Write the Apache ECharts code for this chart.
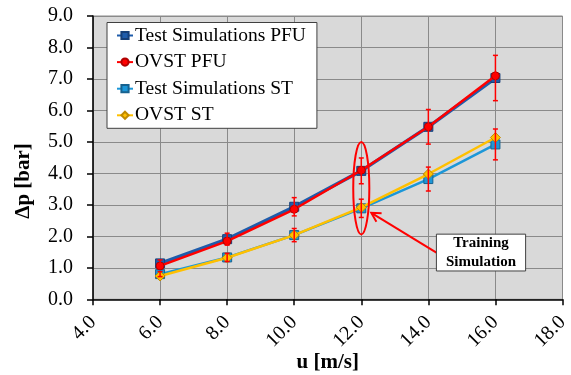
<!DOCTYPE html>
<html>
<head>
<meta charset="utf-8">
<script src="https://cdn.jsdelivr.net/npm/echarts@6/dist/echarts.min.js"></script>
<style>
  html, body { margin: 0; padding: 0; background: #fff; }
  #chart { width: 571px; height: 375px; }
</style>
</head>
<body>
<div id="chart"></div>
<script>
// Flow velocity (m/s)
const velocity = [6.0, 8.0, 10.0, 12.0, 14.0, 16.0];

// Pressure drop (bar)
const testPFU = [1.14, 1.91, 2.94, 4.08, 5.48, 7.03];
const ovstPFU = [1.06, 1.85, 2.86, 4.10, 5.48, 7.10];
const testST  = [0.80, 1.33, 2.04, 2.89, 3.82, 4.92];
const ovstST  = [0.74, 1.32, 2.04, 2.92, 3.98, 5.14];

// Error bar half-widths (bar) on the test simulation values
const errPFU = [0.11, 0.19, 0.29, 0.41, 0.55, 0.72];
const errST  = [0.08, 0.13, 0.21, 0.29, 0.38, 0.49];

const seriesNames = ['Test Simulations PFU', 'OVST PFU', 'Test Simulations ST', 'OVST ST'];
const xTicks = { min: 4, max: 18, step: 2 };
const yTicks = { min: 0, max: 9, step: 1 };

// Callout: ellipse around the training point and a labelled box
const noteEllipse = { x: 12, y: 3.53, rx: 0.24, ry: 1.47 };
const noteBox = { x0: 14.24, y0: 2.07, x1: 16.9, y1: 0.9 };
const noteText = 'Training\nSimulation';

const FONT = "'Liberation Serif', 'Times New Roman', serif";

const pairs = (ys) => velocity.map((x, i) => [x, ys[i]]);
const errData = (ys, es) => velocity.map((x, i) => [x, ys[i] - es[i], ys[i] + es[i]]);

function renderErr(params, api) {
  const top = api.coord([api.value(0), api.value(2)]);
  const bot = api.coord([api.value(0), api.value(1)]);
  const hw = 2.5;
  const style = { stroke: '#ff0000', lineWidth: 1.5 };
  return {
    type: 'group',
    children: [
      { type: 'line', shape: { x1: top[0], y1: top[1], x2: bot[0], y2: bot[1] }, style },
      { type: 'line', shape: { x1: top[0] - hw, y1: top[1], x2: top[0] + hw, y2: top[1] }, style },
      { type: 'line', shape: { x1: bot[0] - hw, y1: bot[1], x2: bot[0] + hw, y2: bot[1] }, style }
    ]
  };
}

function renderNote(params, api) {
  const c = api.coord([noteEllipse.x, noteEllipse.y]);
  const ex = api.coord([noteEllipse.x + noteEllipse.rx, noteEllipse.y]);
  const ey = api.coord([noteEllipse.x, noteEllipse.y + noteEllipse.ry]);
  const rx = Math.abs(ex[0] - c[0]);
  const ry = Math.abs(c[1] - ey[1]);
  const b0 = api.coord([noteBox.x0, noteBox.y0]);
  const b1 = api.coord([noteBox.x1, noteBox.y1]);
  // arrow from the box's left edge to the ellipse outline
  const start = [b0[0], b0[1] + (b1[1] - b0[1]) * 0.5];
  const ang = Math.atan2(start[1] - c[1], start[0] - c[0]);
  const tip = [c[0] + rx * 1.15 * Math.cos(ang) + 3, c[1] + ry * Math.sin(ang) * 0.82];
  const dx = start[0] - tip[0], dy = start[1] - tip[1];
  const len = Math.sqrt(dx * dx + dy * dy);
  const ux = dx / len, uy = dy / len;
  const hl = 9, hw = 5;
  const w1 = [tip[0] + ux * hl - uy * hw, tip[1] + uy * hl + ux * hw];
  const w2 = [tip[0] + ux * hl + uy * hw, tip[1] + uy * hl - ux * hw];
  const red = { stroke: '#ff0000', lineWidth: 2, fill: null };
  return {
    type: 'group',
    children: [
      { type: 'ellipse', shape: { cx: c[0], cy: c[1], rx: rx, ry: ry }, style: red },
      { type: 'line', shape: { x1: start[0], y1: start[1], x2: tip[0], y2: tip[1] }, style: red },
      { type: 'polyline', shape: { points: [w1, tip, w2] }, style: red },
      { type: 'rect', shape: { x: b0[0], y: b0[1], width: b1[0] - b0[0], height: b1[1] - b0[1] },
        style: { fill: '#ffffff', stroke: '#404040', lineWidth: 1 } },
      { type: 'text', style: {
          x: (b0[0] + b1[0]) / 2, y: (b0[1] + b1[1]) / 2 + 0.5,
          text: noteText, align: 'center', verticalAlign: 'middle',
          font: "bold 15px " + FONT, lineHeight: 19, fill: '#000' } }
    ]
  };
}

const chart = echarts.init(document.getElementById('chart'), null, { renderer: 'canvas' });

chart.setOption({
  animation: false,
  backgroundColor: '#ffffff',
  textStyle: { fontFamily: FONT },
  grid: {
    left: 93, top: 16, width: 469.5, height: 283.3,
    outerBoundsMode: 'none', containLabel: false,
    show: true, backgroundColor: '#d9d9d9', borderColor: '#8a8a8a', borderWidth: 1
  },
  legend: {
    data: seriesNames,
    orient: 'vertical',
    left: 107, top: 22.5,
    padding: [3, 11, 3, 9],
    itemGap: 6.6,
    itemWidth: 16, itemHeight: 9,
    backgroundColor: '#ffffff',
    borderColor: '#404040', borderWidth: 1, borderRadius: 0,
    textStyle: { fontFamily: FONT, fontSize: 19.5, color: '#000', lineHeight: 20, padding: [0, 0, 0, -3] }
  },
  xAxis: {
    type: 'value',
    min: xTicks.min, max: xTicks.max, interval: xTicks.step,
    name: 'u [m/s]', nameLocation: 'middle', nameGap: 53, nameMoveOverlap: false,
    nameTextStyle: { fontFamily: FONT, fontSize: 21, fontWeight: 'bold', color: '#000' },
    axisLine: { onZero: false, lineStyle: { color: '#000', width: 1.5 } },
    axisTick: { show: true, inside: false, length: 6, lineStyle: { color: '#000', width: 1.5 } },
    axisLabel: { rotate: 45, margin: 20, fontFamily: FONT, fontSize: 20, color: '#000',
                 formatter: v => v.toFixed(1) },
    splitLine: { show: true, lineStyle: { color: '#8a8a8a', width: 1 } }
  },
  yAxis: {
    type: 'value',
    min: yTicks.min, max: yTicks.max, interval: yTicks.step,
    axisLine: { show: true, lineStyle: { color: '#000', width: 1.5 } },
    axisTick: { show: true, inside: false, length: 6, lineStyle: { color: '#000', width: 1.5 } },
    axisLabel: { margin: 20, fontFamily: FONT, fontSize: 20, color: '#000',
                 formatter: v => v.toFixed(1) },
    splitLine: { show: true, lineStyle: { color: '#8a8a8a', width: 1 } }
  },
  graphic: [{
    type: 'text', x: 24, y: 181, rotation: Math.PI / 2,
    style: { text: 'Δp [bar]', font: 'bold 21px ' + FONT, fill: '#000',
             align: 'center', verticalAlign: 'middle' }
  }],
  series: [
    {
      name: seriesNames[0], type: 'line', data: pairs(testPFU), z: 3,
      symbol: 'rect', symbolSize: 9,
      lineStyle: { color: '#1f5cab', width: 3.5 },
      itemStyle: { color: '#1f5cab', borderColor: '#163f78', borderWidth: 1 }
    },
    {
      name: seriesNames[1], type: 'line', data: pairs(ovstPFU), z: 4,
      symbol: 'circle', symbolSize: 8,
      lineStyle: { color: '#ff0000', width: 2.5 },
      itemStyle: { color: '#ff0000', borderColor: '#b00000', borderWidth: 1 }
    },
    {
      name: seriesNames[2], type: 'line', data: pairs(testST), z: 3,
      symbol: 'rect', symbolSize: 9,
      lineStyle: { color: '#1c97d8', width: 2.5 },
      itemStyle: { color: '#1c97d8', borderColor: '#17628f', borderWidth: 1 }
    },
    {
      name: seriesNames[3], type: 'line', data: pairs(ovstST), z: 4,
      symbol: 'diamond', symbolSize: 10,
      lineStyle: { color: '#ffc000', width: 2.5 },
      itemStyle: { color: '#ffc000', borderColor: '#c08a00', borderWidth: 1 }
    },
    { type: 'custom', data: errData(testPFU, errPFU), renderItem: renderErr, z: 5, silent: true },
    { type: 'custom', data: errData(testST, errST), renderItem: renderErr, z: 5, silent: true },
    { type: 'custom', data: [[noteEllipse.x, noteEllipse.y]], renderItem: renderNote, z: 6, silent: true, clip: false }
  ]
});
</script>
</body>
</html>
